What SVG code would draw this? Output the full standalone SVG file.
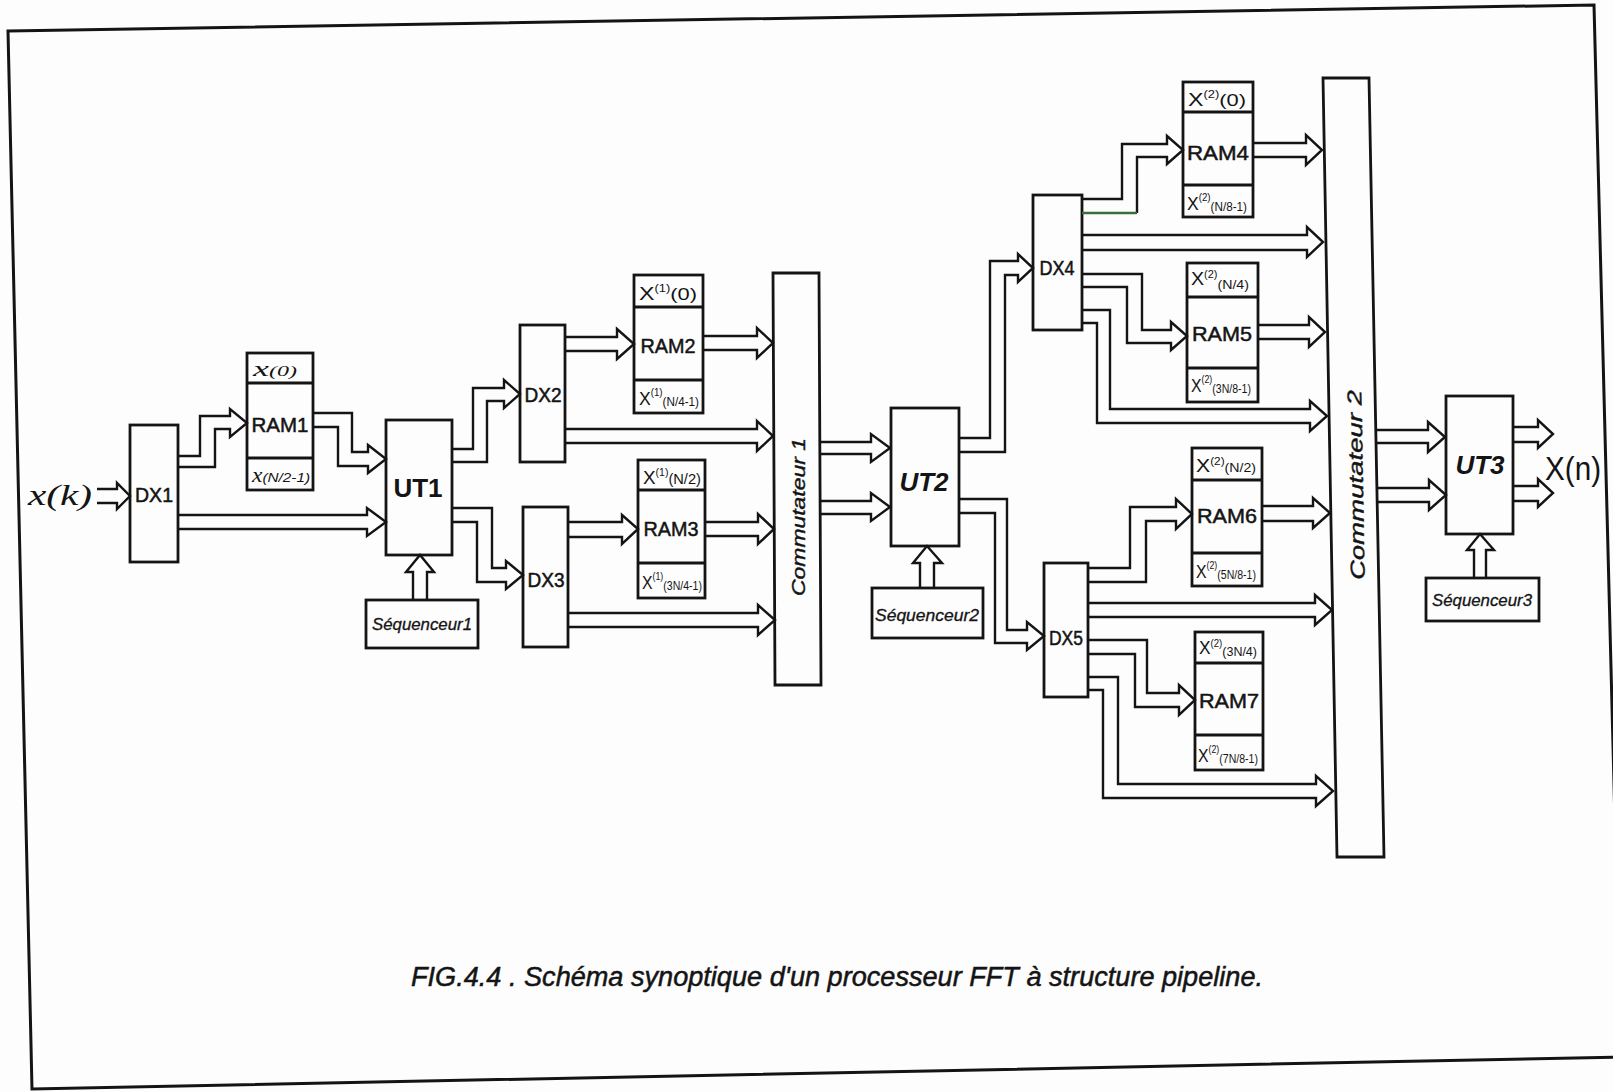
<svg xmlns="http://www.w3.org/2000/svg" width="1613" height="1092" viewBox="0 0 1613 1092">
<style>
.box{fill:none;stroke:#141414;stroke-width:2.8;stroke-linejoin:miter}
.arr{fill:none;stroke:#141414;stroke-width:2.4;stroke-linejoin:miter}
.t{font-family:"Liberation Sans",Arial,sans-serif;fill:#141414}
.lb{font-size:20px;text-anchor:middle;dominant-baseline:central;stroke:#141414;stroke-width:0.5}
.ram{font-size:21px;text-anchor:middle;dominant-baseline:central;stroke:#141414;stroke-width:0.5}
.ut{font-size:26px;font-weight:bold;text-anchor:middle;dominant-baseline:central}
.seq{font-size:16px;font-style:italic;text-anchor:middle;dominant-baseline:central;stroke:#141414;stroke-width:0.3}
.cell{font-size:18px}
.scr{font-family:"Liberation Serif","Times New Roman",serif;font-style:italic;fill:#141414}
</style>
<rect x="0" y="0" width="1613" height="1092" fill="#fdfdfd"/>
<polygon points="8,31 1594,5 1621,1057 32,1089" fill="none" stroke="#141414" stroke-width="3"/>

<text class="scr" x="28" y="505" font-size="30" textLength="64" lengthAdjust="spacingAndGlyphs">x(k)</text>

<g id="DX1"><rect class="box" x="130" y="425" width="48" height="137"/><text class="t lb" x="154" y="495" textLength="38" lengthAdjust="spacingAndGlyphs">DX1</text></g>

<g id="RAM1"><rect class="box" x="247" y="353" width="66" height="137"/><line class="box" x1="247" y1="383" x2="313" y2="383"/><line class="box" x1="247" y1="458" x2="313" y2="458"/>
<text class="scr" x="253" y="376" font-size="21" textLength="44" lengthAdjust="spacingAndGlyphs">x<tspan font-size="14">(0)</tspan></text>
<text class="t ram" x="280" y="424" textLength="57" lengthAdjust="spacingAndGlyphs">RAM1</text>
<text class="scr" x="252" y="482" font-size="20" textLength="58" lengthAdjust="spacingAndGlyphs">x<tspan font-size="13" font-family="Liberation Sans, sans-serif">(N/2-1)</tspan></text></g>

<g id="UT1"><rect class="box" x="386" y="420" width="66" height="135"/><text class="t ut" x="418" y="488">UT1</text></g>
<g id="Sequenceur1"><rect class="box" x="366" y="600" width="112" height="48"/><text class="t seq" x="422" y="624" textLength="100" lengthAdjust="spacingAndGlyphs">Séquenceur1</text></g>

<g id="DX2"><rect class="box" x="520" y="325" width="45" height="137"/><text class="t lb" x="543" y="395" textLength="37" lengthAdjust="spacingAndGlyphs">DX2</text></g>
<g id="DX3"><rect class="box" x="523" y="507" width="45" height="140"/><text class="t lb" x="546" y="580" textLength="37" lengthAdjust="spacingAndGlyphs">DX3</text></g>

<g id="RAM2"><rect class="box" x="634" y="275" width="69" height="138"/><line class="box" x1="634" y1="307" x2="703" y2="307"/><line class="box" x1="634" y1="380" x2="703" y2="380"/>
<text class="t cell" x="639" y="300" textLength="58" lengthAdjust="spacingAndGlyphs">X<tspan dy="-8" font-size="10">(1)</tspan><tspan dy="8" font-size="17">(0)</tspan></text>
<text class="t ram" x="668" y="345" textLength="55" lengthAdjust="spacingAndGlyphs">RAM2</text>
<text class="t cell" x="639" y="405" textLength="60" lengthAdjust="spacingAndGlyphs">X<tspan dy="-9" font-size="10">(1)</tspan><tspan dy="10" font-size="12">(N/4-1)</tspan></text></g>

<g id="RAM3"><rect class="box" x="638" y="460" width="67" height="138"/><line class="box" x1="638" y1="490" x2="705" y2="490"/><line class="box" x1="638" y1="563" x2="705" y2="563"/>
<text class="t cell" x="643" y="484" textLength="58" lengthAdjust="spacingAndGlyphs">X<tspan dy="-8" font-size="10">(1)</tspan><tspan dy="8" font-size="14">(N/2)</tspan></text>
<text class="t ram" x="671" y="528" textLength="55" lengthAdjust="spacingAndGlyphs">RAM3</text>
<text class="t cell" x="642" y="589" textLength="60" lengthAdjust="spacingAndGlyphs">X<tspan dy="-9" font-size="10">(1)</tspan><tspan dy="10" font-size="12">(3N/4-1)</tspan></text></g>

<g id="Commutateur1"><polygon class="box" points="773,273 819,273 821,685 775,685"/><text class="t" x="798" y="517" font-size="19" font-style="italic" stroke="#141414" stroke-width="0.4" text-anchor="middle" dominant-baseline="central" transform="rotate(-90 798 517)" textLength="158" lengthAdjust="spacingAndGlyphs">Commutateur 1</text></g>

<g id="UT2"><rect class="box" x="891" y="408" width="68" height="138"/><text class="t ut" x="924" y="482" font-style="italic">UT2</text></g>
<g id="Sequenceur2"><rect class="box" x="872" y="588" width="111" height="50"/><text class="t seq" x="927" y="615" textLength="104" lengthAdjust="spacingAndGlyphs">Séquenceur2</text></g>

<g id="DX4"><rect class="box" x="1033" y="195" width="49" height="135"/><text class="t lb" x="1057" y="268" textLength="35" lengthAdjust="spacingAndGlyphs">DX4</text></g>
<g id="DX5"><rect class="box" x="1044" y="563" width="44" height="134"/><text class="t lb" x="1066" y="638" textLength="34" lengthAdjust="spacingAndGlyphs">DX5</text></g>

<g id="RAM4"><rect class="box" x="1183" y="82" width="70" height="135"/><line class="box" x1="1183" y1="112" x2="1253" y2="112"/><line class="box" x1="1183" y1="185" x2="1253" y2="185"/>
<text class="t cell" x="1188" y="106" textLength="58" lengthAdjust="spacingAndGlyphs">X<tspan dy="-8" font-size="10">(2)</tspan><tspan dy="8" font-size="17">(0)</tspan></text>
<text class="t ram" x="1218" y="152" textLength="62" lengthAdjust="spacingAndGlyphs">RAM4</text>
<text class="t cell" x="1187" y="210" textLength="60" lengthAdjust="spacingAndGlyphs">X<tspan dy="-9" font-size="10">(2)</tspan><tspan dy="10" font-size="12">(N/8-1)</tspan></text></g>

<g id="RAM5"><rect class="box" x="1187" y="263" width="71" height="139"/><line class="box" x1="1187" y1="297" x2="1258" y2="297"/><line class="box" x1="1187" y1="368" x2="1258" y2="368"/>
<text class="t cell" x="1191" y="285" textLength="58" lengthAdjust="spacingAndGlyphs">X<tspan dy="-7" font-size="10">(2)</tspan><tspan dy="11" font-size="13">(N/4)</tspan></text>
<text class="t ram" x="1222" y="333" textLength="60" lengthAdjust="spacingAndGlyphs">RAM5</text>
<text class="t cell" x="1191" y="392" textLength="60" lengthAdjust="spacingAndGlyphs">X<tspan dy="-9" font-size="10">(2)</tspan><tspan dy="10" font-size="12">(3N/8-1)</tspan></text></g>

<g id="RAM6"><rect class="box" x="1192" y="448" width="70" height="138"/><line class="box" x1="1192" y1="480" x2="1262" y2="480"/><line class="box" x1="1192" y1="553" x2="1262" y2="553"/>
<text class="t cell" x="1196" y="472" textLength="60" lengthAdjust="spacingAndGlyphs">X<tspan dy="-7" font-size="10">(2)</tspan><tspan dy="7" font-size="12">(N/2)</tspan></text>
<text class="t ram" x="1227" y="515" textLength="60" lengthAdjust="spacingAndGlyphs">RAM6</text>
<text class="t cell" x="1196" y="578" textLength="60" lengthAdjust="spacingAndGlyphs">X<tspan dy="-9" font-size="10">(2)</tspan><tspan dy="10" font-size="12">(5N/8-1)</tspan></text></g>

<g id="RAM7"><rect class="box" x="1195" y="632" width="68" height="138"/><line class="box" x1="1195" y1="663" x2="1263" y2="663"/><line class="box" x1="1195" y1="735" x2="1263" y2="735"/>
<text class="t cell" x="1199" y="654" textLength="58" lengthAdjust="spacingAndGlyphs">X<tspan dy="-7" font-size="10">(2)</tspan><tspan dy="9" font-size="13">(3N/4)</tspan></text>
<text class="t ram" x="1229" y="700" textLength="60" lengthAdjust="spacingAndGlyphs">RAM7</text>
<text class="t cell" x="1198" y="762" textLength="60" lengthAdjust="spacingAndGlyphs">X<tspan dy="-9" font-size="10">(2)</tspan><tspan dy="10" font-size="12">(7N/8-1)</tspan></text></g>

<g id="Commutateur2"><polygon class="box" points="1323,78 1369,78 1384,857 1337,857"/><text class="t" x="1356" y="485" font-size="20" font-style="italic" stroke="#141414" stroke-width="0.4" text-anchor="middle" dominant-baseline="central" transform="rotate(-91 1356 485)" textLength="190" lengthAdjust="spacingAndGlyphs">Commutateur 2</text></g>

<g id="UT3"><rect class="box" x="1446" y="396" width="67" height="138"/><text class="t ut" x="1480" y="465" font-style="italic">UT3</text></g>
<g id="Sequenceur3"><rect class="box" x="1426" y="578" width="113" height="43"/><text class="t seq" x="1482" y="600" textLength="100" lengthAdjust="spacingAndGlyphs">Séquenceur3</text></g>

<text class="t" x="1545" y="480" font-size="34" textLength="56" lengthAdjust="spacingAndGlyphs">X(n)</text>

<g id="connectors">
<path class="arr" d="M97,489 L117,489 L117,483 L130,496 L117,509 L117,503 L97,503"/>
<path class="arr" d="M178,456 L200,456 L200,416 L230,416 L230,409 L247,423 L230,437 L230,429 L215,429 L215,467 L178,467"/>
<path class="arr" d="M313,413 L352,413 L352,452 L368,452 L368,445 L386,459 L368,473 L368,466 L338,466 L338,427 L313,427"/>
<path class="arr" d="M178,515 L367,515 L367,508 L386,522 L367,536 L367,529 L178,529"/>
<path class="arr" d="M413,600 L413,572 L406,572 L420,555 L434,572 L427,572 L427,600"/>
<path class="arr" d="M452,449 L473,449 L473,388 L504,388 L504,380 L520,394 L504,408 L504,401 L487,401 L487,462 L452,462"/>
<path class="arr" d="M452,508 L492,508 L492,568 L506,568 L506,561 L523,575 L506,589 L506,582 L477,582 L477,522 L452,522"/>
<path class="arr" d="M565,337 L617,337 L617,329 L634,344 L617,359 L617,351 L565,351"/>
<path class="arr" d="M703,336 L757,336 L757,328 L773,343 L757,358 L757,350 L703,350"/>
<path class="arr" d="M565,429 L757,429 L757,421 L773,436 L757,451 L757,443 L565,443"/>
<path class="arr" d="M568,522 L622,522 L622,515 L638,529 L622,544 L622,537 L568,537"/>
<path class="arr" d="M705,522 L758,522 L758,514 L774,529 L758,544 L758,536 L705,536"/>
<path class="arr" d="M568,613 L758,613 L758,605 L775,620 L758,635 L758,627 L568,627"/>
<path class="arr" d="M820,442 L871,442 L871,434 L890,448 L871,462 L871,454 L820,454"/>
<path class="arr" d="M820,501 L871,501 L871,493 L890,507 L871,521 L871,514 L820,514"/>
<path class="arr" d="M920,588 L920,563 L913,563 L927,546 L942,563 L934,563 L934,588"/>
<path class="arr" d="M959,438 L990,438 L990,261 L1018,261 L1018,254 L1033,268 L1018,282 L1018,275 L1005,275 L1005,452 L959,452"/>
<path class="arr" d="M959,499 L1007,499 L1007,630 L1027,630 L1027,622 L1044,636 L1027,650 L1027,643 L995,643 L995,513 L959,513"/>
<path class="arr" d="M1082,199 L1122,199 L1122,144 L1167,144 L1167,136 L1183,150 L1167,164 L1167,157 L1137,157 L1137,213"/>
<line x1="1137" y1="213" x2="1082" y2="213" stroke="#3c6e3c" stroke-width="2.4"/>
<path class="arr" d="M1253,143 L1306,143 L1306,135 L1322,150 L1306,165 L1306,157 L1253,157"/>
<path class="arr" d="M1082,235 L1307,235 L1307,227 L1323,242 L1307,257 L1307,250 L1082,250"/>
<path class="arr" d="M1082,274 L1142,274 L1142,330 L1171,330 L1171,322 L1187,336 L1171,350 L1171,343 L1127,343 L1127,287 L1082,287"/>
<path class="arr" d="M1258,325 L1309,325 L1309,317 L1325,332 L1309,347 L1309,339 L1258,339"/>
<path class="arr" d="M1082,310 L1110,310 L1110,409 L1310,409 L1310,401 L1327,416 L1310,431 L1310,423 L1097,423 L1097,323 L1082,323"/>
<path class="arr" d="M1088,568 L1130,568 L1130,507 L1176,507 L1176,499 L1192,514 L1176,529 L1176,521 L1146,521 L1146,582 L1088,582"/>
<path class="arr" d="M1262,506 L1313,506 L1313,498 L1330,513 L1313,528 L1313,521 L1262,521"/>
<path class="arr" d="M1088,603 L1315,603 L1315,595 L1332,610 L1315,625 L1315,617 L1088,617"/>
<path class="arr" d="M1088,640 L1147,640 L1147,693 L1179,693 L1179,685 L1195,700 L1179,715 L1179,707 L1135,707 L1135,654 L1088,654"/>
<path class="arr" d="M1088,677 L1118,677 L1118,784 L1316,784 L1316,776 L1333,791 L1316,806 L1316,798 L1103,798 L1103,690 L1088,690"/>
<path class="arr" d="M1376,430 L1428,430 L1428,422 L1445,437 L1428,452 L1428,443 L1376,443"/>
<path class="arr" d="M1377,488 L1429,488 L1429,480 L1446,495 L1429,510 L1429,502 L1377,502"/>
<path class="arr" d="M1474,578 L1474,550 L1467,550 L1480,534 L1494,550 L1486,550 L1486,578"/>
<path class="arr" d="M1513,427 L1538,427 L1538,420 L1553,434 L1538,448 L1538,442 L1513,442"/>
<path class="arr" d="M1513,486 L1538,486 L1538,479 L1553,493 L1538,507 L1538,501 L1513,501"/>
</g>

<text class="t" x="411" y="986" font-size="27" font-style="italic" stroke="#141414" stroke-width="0.5" textLength="852" lengthAdjust="spacingAndGlyphs">FIG.4.4 . Schéma synoptique d'un processeur FFT à structure pipeline.</text>
</svg>
